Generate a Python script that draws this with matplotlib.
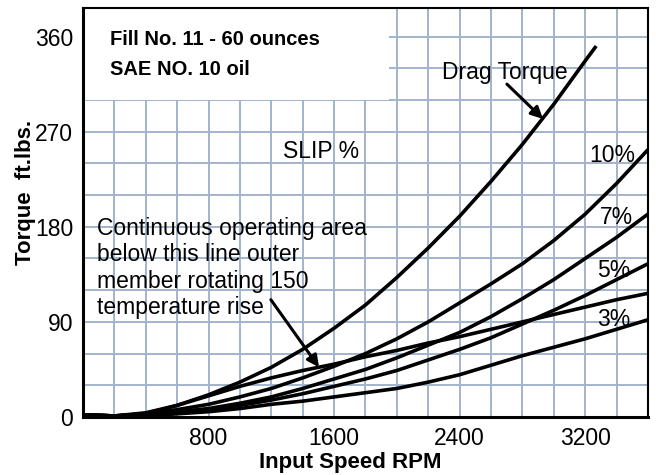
import matplotlib
matplotlib.use("Agg")
import matplotlib.pyplot as plt
from matplotlib.patches import Rectangle

plt.rcParams['font.family'] = ['Liberation Sans', 'DejaVu Sans']

# ---- data ----
rpm = [0, 200, 400, 600, 800, 1000, 1200, 1400, 1600, 1800, 2000,
       2200, 2400, 2600, 2800, 3000, 3200, 3400, 3600]
drag_rpm = [0, 200, 400, 600, 800, 1000, 1200, 1400, 1600, 1800, 2000,
            2200, 2400, 2600, 2800, 3000, 3200, 3270]
drag_torque = [2, 1, 4, 11, 21, 33, 47, 64, 84, 106, 132, 160, 190, 223, 258, 296, 337, 351]
slip_10 = [2, 1, 3, 7, 12, 19, 27, 37, 48, 60, 74, 90, 108, 126, 145, 167, 192, 221, 253]
slip_7 = [2, 1, 2, 5, 8, 13, 19, 27, 36, 45, 56, 68, 80, 95, 112, 130, 150, 170, 192]
slip_5 = [2, 1, 2, 4, 7, 11, 16, 22, 29, 36, 44, 54, 64, 75, 88, 101, 115, 130, 145]
slip_3 = [2, 1, 1, 3, 5, 8, 12, 15, 19, 23, 27, 33, 40, 49, 58, 66, 74, 83, 92]
temp_rise_line = [2, 1, 3, 11, 20, 29, 37, 44, 50, 57, 63, 70, 76, 83, 90, 97, 104, 111, 117]

slip_labels = ["10%", "7%", "5%", "3%"]
slip_label_pos = [(3373, 247), (3398, 189), (3379, 139), (3379, 92)]

x_ticks = [800, 1600, 2400, 3200]
y_label_ticks = [0, 90, 180, 270, 360]

grid_color = '#a2b4cd'

fig = plt.figure(figsize=(6.56, 4.75), dpi=100)
ax = fig.add_axes([0.1265, 0.1221, 0.8613, 0.8611])
ax.set_xlim(0, 3600)
ax.set_ylim(0, 387)

# grid
for gx in range(200, 3600, 200):
    ax.axvline(gx, color=grid_color, lw=1.4, zorder=1)
for gy in range(30, 390, 30):
    ax.axhline(gy, color=grid_color, lw=1.4, zorder=1)

# white title box
ax.add_patch(Rectangle((0, 300), 1950, 100, facecolor='white', edgecolor='none', zorder=2))

lw = 2.6
ax.plot(drag_rpm, drag_torque, color='black', lw=lw, zorder=4, solid_capstyle='butt')
for series in [slip_10, slip_7, slip_5, slip_3, temp_rise_line]:
    ax.plot(rpm, series, color='black', lw=lw, zorder=4, solid_capstyle='butt')

fs = 16.5
for lab, (lx, ly) in zip(slip_labels, slip_label_pos):
    ax.text(lx, ly, lab, fontsize=fs, ha='center', va='center', zorder=5)

ax.text(1517, 251, "SLIP %", fontsize=fs, ha='center', va='center', zorder=5)
ax.text(2285, 326, "Drag Torque", fontsize=fs, ha='left', va='center', zorder=5)
ax.text(90, 141, "Continuous operating area\nbelow this line outer\nmember rotating 150\ntemperature rise",
        fontsize=fs, ha='left', va='center', linespacing=1.17, zorder=5)

ax.text(173, 357, "Fill No. 11 - 60 ounces", fontsize=14.5, fontweight='bold',
        ha='left', va='center', zorder=5)
ax.text(173, 329, "SAE NO. 10 oil", fontsize=14.5, fontweight='bold',
        ha='left', va='center', zorder=5)

arrow_kw = dict(arrowstyle='-|>,head_length=0.7,head_width=0.35', color='black', lw=2.2,
                shrinkA=0, shrinkB=0)
ax.annotate("", xy=(2931, 282), xytext=(2701, 315), arrowprops=arrow_kw, zorder=6)
ax.annotate("", xy=(1504, 47), xytext=(1197, 111), arrowprops=arrow_kw, zorder=6)

# ticks
ax.set_xticks(x_ticks)
ax.set_xticklabels([str(v) for v in x_ticks], fontsize=fs)
ax.set_yticks(y_label_ticks)
ax.set_yticklabels([str(v) for v in y_label_ticks], fontsize=fs)
ax.tick_params(axis='both', length=0, pad=7)

for s in ['top', 'right']:
    ax.spines[s].set_linewidth(1.5)
for s in ['left', 'bottom']:
    ax.spines[s].set_linewidth(2.2)
for s in ax.spines.values():
    s.set_zorder(7)

ax.set_xlabel("Input Speed RPM", fontsize=16, fontweight='bold')
ax.set_ylabel("Torque  ft.lbs.", fontsize=16, fontweight='bold')
ax.xaxis.set_label_coords(0.473, -0.085)
ax.yaxis.set_label_coords(-0.083, 0.55)

fig.savefig("out.png", dpi=100)
